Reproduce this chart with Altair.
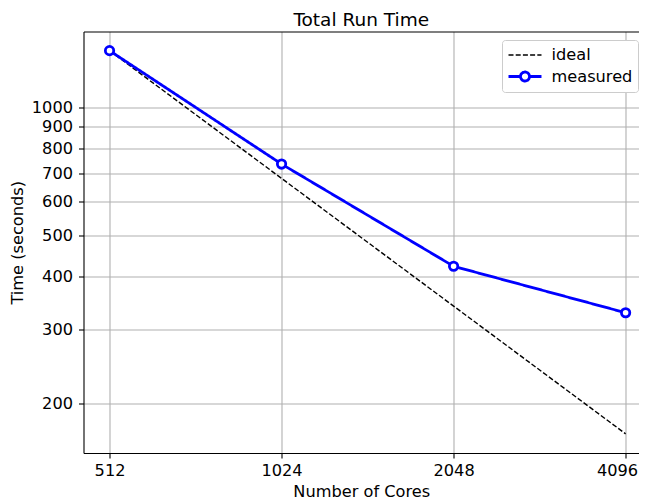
import altair as alt
import pandas as pd

cores = [512, 1024, 2048, 4096]
ideal = [1360, 680, 340, 170]
measured = [1360, 735, 422, 328]
series = ["ideal", "measured"]
x_ticks = [512, 1024, 2048, 4096]
y_ticks = [200, 300, 400, 500, 600, 700, 800, 900, 1000]

df = pd.DataFrame({
    "cores": cores * 2,
    "time": ideal + measured,
    "series": ["ideal"] * len(cores) + ["measured"] * len(cores),
})

FONT = "DejaVu Sans"
FS = 16.2

x_scale = alt.Scale(type="log", base=2, domain=[461, 4323], nice=False)
y_scale = alt.Scale(type="log", domain=[153.2, 1509], nice=False)
x_enc = alt.X("cores:Q", scale=x_scale,
              axis=alt.Axis(values=x_ticks, format="d", title="Number of Cores",
                            labelFlush=20, labelFlushOffset=12, labelOverlap=False,
                            labelPadding=4, titlePadding=5))
x_none = alt.X("cores:Q", scale=x_scale, axis=None)
x_top = alt.X("cores:Q", scale=x_scale,
              axis=alt.Axis(orient="top", labels=False, ticks=False, grid=False, title=None, domain=True))
y_enc = alt.Y("time:Q", scale=y_scale,
              axis=alt.Axis(values=y_ticks, format="d", title="Time (seconds)",
                            labelOverlap=False, labelPadding=6, titlePadding=6))

color = alt.Color("series:N", scale=alt.Scale(domain=series, range=["black", "blue"]), title=None)
dash = alt.StrokeDash("series:N", scale=alt.Scale(domain=series, range=[[5, 2.2], [1, 0]]), title=None)
sw = alt.StrokeWidth("series:N", scale=alt.Scale(domain=series, range=[1.4, 2.8]), title=None)
shape = alt.Shape("series:N", scale=alt.Scale(domain=series, range=[
    "M-1.833,0H1.833",
    "M-1.833,0H-0.5M0.5,0H1.833M0.5,0A0.5,0.5 0 1 1 -0.5,0A0.5,0.5 0 1 1 0.5,0",
]), title=None)

base = alt.Chart(df)

lines = base.mark_line().encode(x=x_enc, y=y_enc, color=color, strokeDash=dash, strokeWidth=sw)

points = base.transform_filter("datum.series == 'measured'").mark_point(
    filled=False, fill="white", fillOpacity=1, size=70, strokeWidth=2.8, opacity=1
).encode(x=x_none, y=y_enc, color=color)

legend_layer = base.transform_filter("false").mark_point(filled=False).encode(
    x=x_top, y=y_enc, color=color, strokeDash=dash, strokeWidth=sw, shape=shape
)

chart = alt.layer(lines, points, legend_layer).resolve_axis(x="independent").properties(
    width=555.5,
    height=421.5,
    autosize=alt.AutoSizeParams(type="none"),
    padding={"left": 75.5, "top": 23.5, "right": 0, "bottom": 50},
    title=alt.Title("Total Run Time", fontSize=18.5, font=FONT, fontWeight="normal",
                    color="black", offset=2, anchor="middle"),
).configure_axis(
    labelFont=FONT, labelFontSize=FS, labelColor="black",
    titleFont=FONT, titleFontSize=FS, titleFontWeight="normal", titleColor="black",
    domainColor="black", domainWidth=1.1, tickColor="black", tickWidth=1.1, tickSize=5,
    gridColor="#b0b0b0", gridWidth=1.1,
).configure_legend(
    orient="none", legendX=418.5, legendY=8.5, fillColor="white", strokeColor="#cccccc",
    cornerRadius=3, padding=5, symbolSize=324, symbolOffset=7.5, labelOffset=16,
    labelFontSize=FS, labelFont=FONT, labelColor="black", rowPadding=2,
    symbolFillColor="white",
).configure_view(stroke=None)

chart.save("out.html", embed_options={"renderer": "svg", "actions": False})
